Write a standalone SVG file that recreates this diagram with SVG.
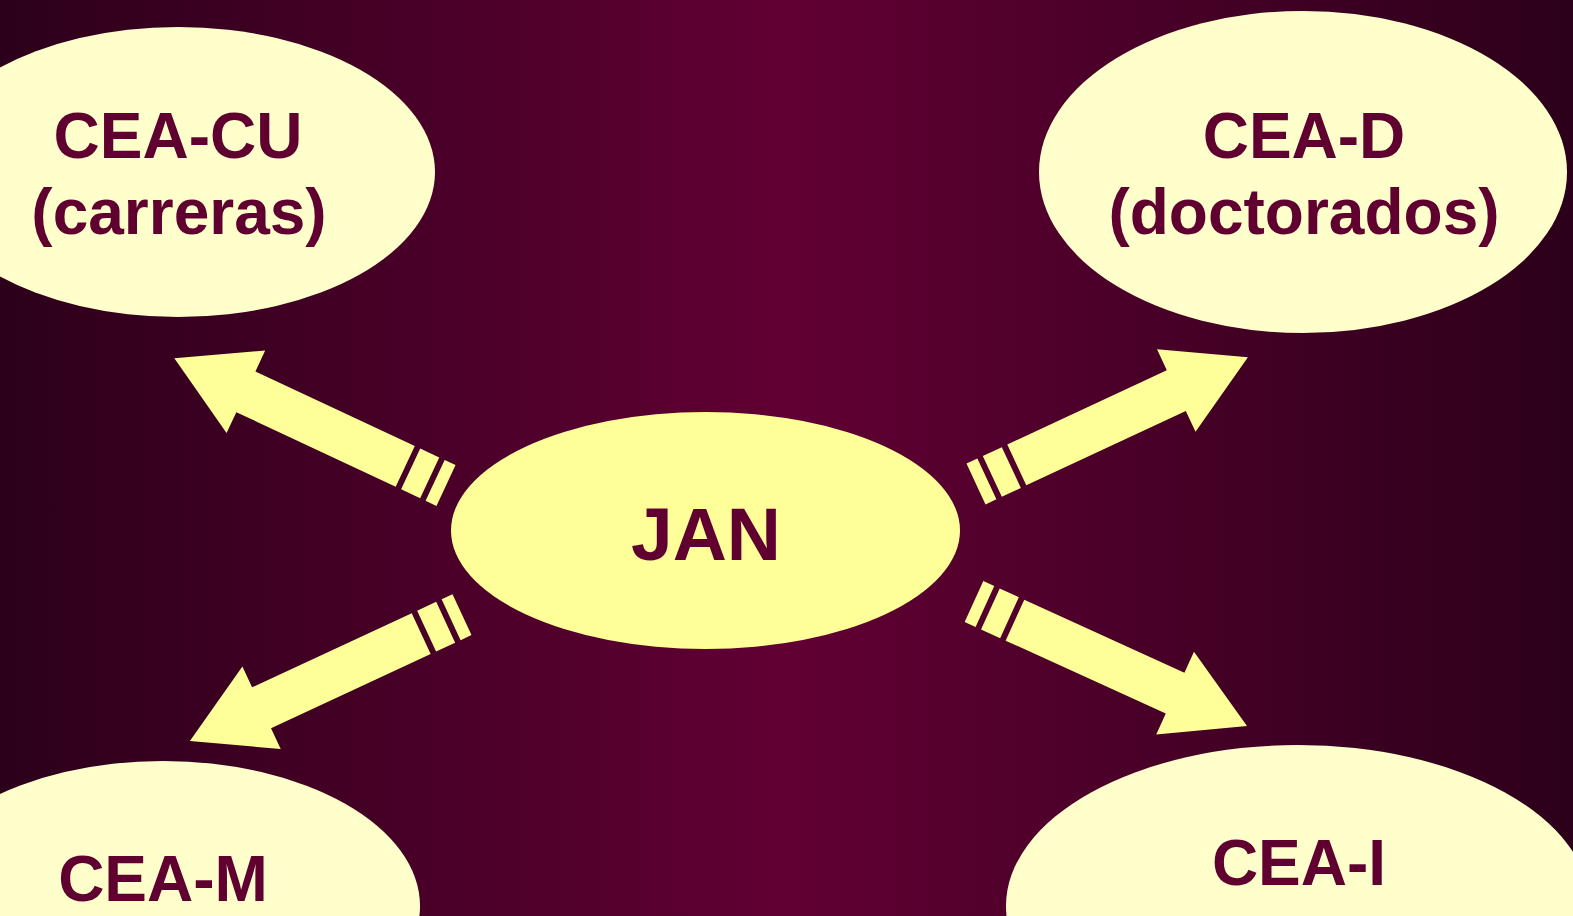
<svg xmlns="http://www.w3.org/2000/svg" xmlns:xlink="http://www.w3.org/1999/xlink" width="1573" height="916" viewBox="0 0 1573 916">
  <defs>
    <linearGradient id="bg" x1="0" y1="0" x2="1" y2="0">
      <stop offset="0" stop-color="#2c001a"/>
      <stop offset="0.5" stop-color="#610033"/>
      <stop offset="1" stop-color="#2c001a"/>
    </linearGradient>
    <g id="striped-arrow">
      <polygon points="0,-22.5 12,-22.5 12,22.5 0,22.5"/>
      <polygon points="18,-22.5 39,-22.5 39,22.5 18,22.5"/>
      <polygon points="45,-22.5 221,-22.5 221,-45.5 300,0 221,45.5 221,22.5 45,22.5"/>
    </g>
  </defs>
  <style>
    .outer { fill: #ffffcc; }
    .center { fill: #ffff99; }
    .lbl { font-family: "Liberation Sans", Arial, sans-serif; font-weight: bold; fill: #600030; text-anchor: middle; }
    .arrow { fill: #ffff99; }
  </style>
  <rect x="0" y="0" width="1573" height="916" fill="url(#bg)"/>

  <g id="node-cea-cu">
    <ellipse class="outer" cx="178" cy="172" rx="257" ry="145"/>
    <text class="lbl" x="178" y="158" font-size="64">CEA-CU</text>
    <text class="lbl" x="179" y="234" font-size="64">(carreras)</text>
  </g>
  <g id="node-cea-d">
    <ellipse class="outer" cx="1303" cy="172" rx="264" ry="161"/>
    <text class="lbl" x="1304" y="158" font-size="64">CEA-D</text>
    <text class="lbl" x="1304" y="234" font-size="64">(doctorados)</text>
  </g>
  <g id="node-jan">
    <ellipse class="center" cx="705.5" cy="530.5" rx="254.5" ry="118.5"/>
    <text class="lbl" x="706" y="560" font-size="75">JAN</text>
  </g>
  <g id="node-cea-m">
    <ellipse class="outer" cx="163" cy="906" rx="257" ry="145"/>
    <text class="lbl" x="163" y="901" font-size="64">CEA-M</text>
  </g>
  <g id="node-cea-i">
    <ellipse class="outer" cx="1298" cy="906" rx="292" ry="161"/>
    <text class="lbl" x="1299" y="885" font-size="64">CEA-I</text>
  </g>

  <g id="connectors" class="arrow">
    <use xlink:href="#striped-arrow" href="#striped-arrow" transform="translate(446,485.5) rotate(205.1)"/>
    <use xlink:href="#striped-arrow" href="#striped-arrow" transform="translate(976,484) rotate(-25)"/>
    <use xlink:href="#striped-arrow" href="#striped-arrow" transform="translate(462,614.7) rotate(155.1)"/>
    <use xlink:href="#striped-arrow" href="#striped-arrow" transform="translate(974,601.5) rotate(24.5)"/>
  </g>
</svg>
